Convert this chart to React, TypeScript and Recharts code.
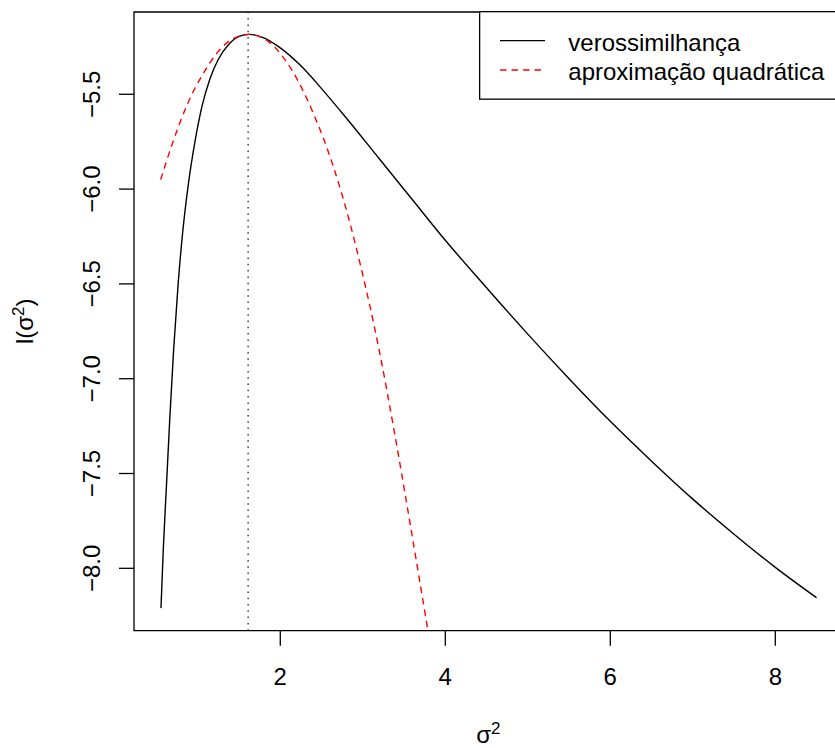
import React from "react"
import { LineChart, Line, XAxis, YAxis, ReferenceLine, ReferenceArea, Legend, Label } from "recharts"

// values
const likX = [0.554, 0.582, 0.622, 0.662, 0.707, 0.762, 0.812, 0.887, 0.966, 1.05, 1.15, 1.25, 1.38, 1.5, 1.62, 1.8, 2.0, 2.25, 2.5, 2.8, 3.2, 3.6, 4.0, 4.5, 5.0, 5.5, 6.0, 6.5, 7.0, 7.5, 8.0, 8.5]
const likY = [-8.21, -7.9, -7.55, -7.2, -6.85, -6.5, -6.25, -5.97, -5.75, -5.565, -5.415, -5.315, -5.235, -5.195, -5.184, -5.202, -5.255, -5.35, -5.47, -5.625, -5.84, -6.055, -6.27, -6.52, -6.765, -7.0, -7.225, -7.435, -7.635, -7.82, -7.995, -8.155]

const quadX = [0.55, 0.7, 0.87, 1.067, 1.35, 1.62, 1.85, 2.078, 2.4, 2.642, 2.845, 2.966, 3.208, 3.37, 3.572, 3.79]
const quadY = [-5.95, -5.75, -5.556, -5.39, -5.23, -5.184, -5.22, -5.33, -5.6, -5.88, -6.18, -6.39, -6.87, -7.25, -7.76, -8.33]

const sigmaHat = 1.61
const xTicks = [2, 4, 6, 8]
const yTicks = [-8, -7.5, -7, -6.5, -6, -5.5]
const seriesNames = ["verossimilhança", "aproximação quadrática"]

const xDomain: [number, number] = [0.227, 8.818]
const yDomain: [number, number] = [-8.329, -5.066]

const FONT = "'Liberation Sans', Arial, Helvetica, sans-serif"

const likData = likX.map((x, i) => ({ x, y: likY[i] }))
const quadData = quadX.map((x, i) => ({ x, y: quadY[i] }))

const fmt = (v: number) => (v < 0 ? "\u2212" : "") + Math.abs(v).toFixed(1)

const XTick = (props: any) => {
  const { x, payload } = props
  return (
    <text x={x} y={685} textAnchor="middle" fontSize={24} fill="#000" fontFamily={FONT}>
      {payload.value}
    </text>
  )
}

const YTick = (props: any) => {
  const { y, payload } = props
  return (
    <text
      x={100}
      y={y}
      transform={`rotate(-90, 100, ${y})`}
      textAnchor="middle"
      fontSize={24}
      fill="#000"
      fontFamily={FONT}
    >
      {fmt(payload.value)}
    </text>
  )
}

const LegendBox = () => (
  <svg width={400} height={92} style={{ display: "block" }}>
    <rect x={0.65} y={0.65} width={420} height={87.5} fill="#fff" stroke="#000" strokeWidth={1.3} />
    <line x1={21} x2={66} y1={29.7} y2={29.7} stroke="#000" strokeWidth={1.3} />
    <line x1={21} x2={66} y1={59} y2={59} stroke="#ff0000" strokeWidth={1.3} strokeDasharray="6.5 5" />
    <text x={89.3} y={39.7} fontSize={24} fontFamily={FONT} fill="#000">
      {seriesNames[0]}
    </text>
    <text x={89.3} y={69} fontSize={24} fontFamily={FONT} fill="#000">
      {seriesNames[1]}
    </text>
  </svg>
)

export default function App() {
  return (
    <div
      style={{
        position: "absolute",
        left: 0,
        top: 0,
        width: 835,
        height: 748,
        overflow: "hidden",
        background: "#fff",
      }}
    >
      <LineChart width={850} height={748} margin={{ top: 12, right: 7.2, bottom: 0, left: 0 }}>
        <XAxis
          dataKey="x"
          type="number"
          domain={xDomain}
          ticks={xTicks}
          allowDataOverflow
          height={117.3}
          axisLine={false}
          tickSize={15}
          tickLine={{ stroke: "#000", strokeWidth: 1.3 }}
          tick={XTick}
        >
          <Label
            content={() => (
              <text x={488.4} y={743} textAnchor="middle" fontSize={24} fontFamily={FONT} fill="#000">
                σ
                <tspan dy={-9} fontSize={17}>
                  2
                </tspan>
              </text>
            )}
          />
        </XAxis>
        <YAxis
          dataKey="y"
          type="number"
          domain={yDomain}
          ticks={yTicks}
          allowDataOverflow
          width={134}
          axisLine={false}
          tickSize={15}
          tickLine={{ stroke: "#000", strokeWidth: 1.3 }}
          tick={YTick}
        >
          <Label
            content={() => (
              <text
                x={33.5}
                y={321.3}
                transform="rotate(-90, 33.5, 321.3)"
                textAnchor="middle"
                fontSize={24}
                fontFamily={FONT}
                fill="#000"
              >
                l(σ
                <tspan dy={-9} fontSize={17}>
                  2
                </tspan>
                <tspan dy={9}>)</tspan>
              </text>
            )}
          />
        </YAxis>
        <ReferenceLine x={sigmaHat} stroke="#222" strokeWidth={1.3} strokeDasharray="1.5 4.8" />
        <Line
          data={likData}
          dataKey="y"
          type="monotone"
          stroke="#000"
          strokeWidth={1.4}
          dot={false}
          isAnimationActive={false}
        />
        <Line
          data={quadData}
          dataKey="y"
          type="monotone"
          stroke="#ff0000"
          strokeWidth={1.4}
          strokeDasharray="6.5 5"
          dot={false}
          isAnimationActive={false}
        />
        <ReferenceArea
          x1={xDomain[0]}
          x2={xDomain[1]}
          y1={yDomain[0]}
          y2={yDomain[1]}
          fill="none"
          fillOpacity={0}
          stroke="#000"
          strokeWidth={1.3}
          ifOverflow="visible"
        />
        <Legend
          layout="horizontal"
          verticalAlign="middle"
          align="center"
          content={LegendBox}
          wrapperStyle={{ position: "absolute", left: 479, top: 11.4, width: 400, height: 92 }}
        />
      </LineChart>
    </div>
  )
}
